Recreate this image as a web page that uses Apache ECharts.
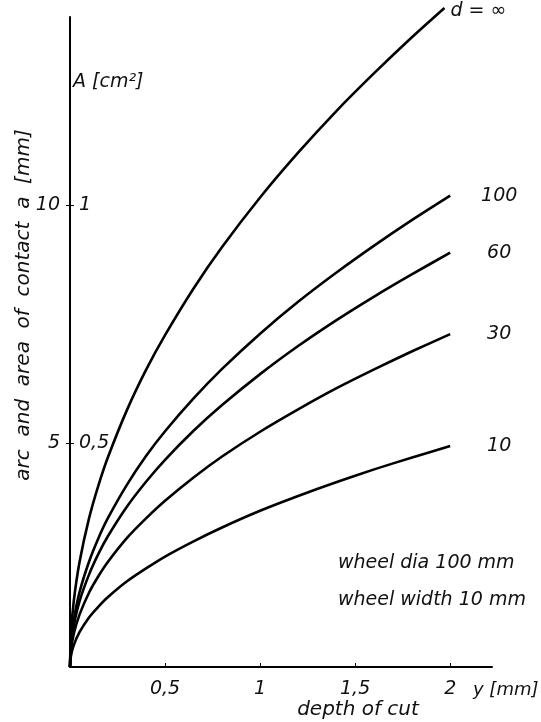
<!DOCTYPE html>
<html>
<head>
<meta charset="utf-8">
<script src="https://cdn.jsdelivr.net/npm/echarts@6/dist/echarts.min.js"></script>
<style>html,body{margin:0;padding:0;background:#fff}#c{width:541px;height:722px}</style>
</head>
<body>
<div id="c"></div>
<script>
// depth of cut y [mm]
var depth    = [0, 0.005, 0.02, 0.05, 0.1, 0.15, 0.2, 0.3, 0.4, 0.5, 0.65, 0.8, 1, 1.2, 1.4, 1.6, 1.8, 2];
var depthInf = [0, 0.005, 0.02, 0.05, 0.1, 0.15, 0.2, 0.3, 0.4, 0.5, 0.65, 0.8, 1, 1.2, 1.4, 1.6, 1.8, 1.97];
// arc of contact a [mm] per workpiece diameter d
var arcInf = [0.3, 1.00, 1.69, 2.50, 3.42, 4.12, 4.71, 5.70, 6.54, 7.27, 8.25, 9.12, 10.16, 11.10, 11.97, 12.77, 13.53, 14.14];
var arc100 = [0.3, 0.79, 1.29, 1.87, 2.51, 3.01, 3.43, 4.13, 4.73, 5.25, 5.94, 6.56, 7.30, 7.97, 8.58, 9.15, 9.69, 10.2];
var arc60  = [0.3, 0.73, 1.17, 1.68, 2.24, 2.68, 3.05, 3.67, 4.19, 4.65, 5.26, 5.80, 6.45, 7.04, 7.58, 8.08, 8.55, 9.0];
var arc30  = [0.3, 0.65, 1.00, 1.40, 1.86, 2.21, 2.51, 3.01, 3.42, 3.79, 4.28, 4.72, 5.24, 5.71, 6.15, 6.55, 6.93, 7.29];
var arc10  = [0.3, 0.53, 0.76, 1.03, 1.34, 1.57, 1.77, 2.10, 2.37, 2.62, 2.94, 3.23, 3.58, 3.89, 4.18, 4.45, 4.70, 4.94];
var curveLabels = ['d = \u221e', '100', '60', '30', '10'];
// tick values and labels
var xTicks = [0.5, 1, 1.5, 2];
var xTickLabels = ['0,5', '1', '1,5', '2'];
var yTicks = [5, 10];
var yTickLabels = ['5', '10'];
var areaTickLabels = ['0,5', '1'];

var FONT = '"DejaVu Sans", sans-serif';
function pairs(xs, ys) { return xs.map(function (x, i) { return [x, ys[i]]; }); }
function lab(vals, labels) { return function (v) { var i = vals.indexOf(v); return i >= 0 ? labels[i] : ''; }; }

var chart = echarts.init(document.getElementById('c'), null, {renderer: 'canvas'});
var seriesData = [pairs(depthInf, arcInf), pairs(depth, arc100), pairs(depth, arc60), pairs(depth, arc30), pairs(depth, arc10)];
var series = seriesData.map(function (d, k) {
  var isInf = k === 0;
  return {
    type: 'line', name: curveLabels[k], data: d, symbol: 'none', smooth: 0.25, clip: false,
    lineStyle: {color: '#000', width: 2.6}, silent: true,
    endLabel: {
      show: true, formatter: curveLabels[k], color: '#111', fontFamily: FONT, fontStyle: 'italic', fontSize: 19,
      distance: isInf ? 6 : 49, align: isInf ? 'left' : 'center', offset: isInf ? [0, 3] : [0, 0]
    }
  };
});

chart.setOption({
  animation: false,
  backgroundColor: '#fff',
  grid: {left: 70, right: 49, top: 17, bottom: 55},
  xAxis: {
    type: 'value', min: 0, max: 2.22,
    axisLine: {show: true, onZero: false, lineStyle: {color: '#000', width: 2}},
    axisTick: {show: true, inside: true, length: 4, customValues: xTicks, lineStyle: {color: '#000', width: 1}},
    axisLabel: {customValues: xTicks, formatter: lab(xTicks, xTickLabels), margin: 13, color: '#111',
      fontFamily: FONT, fontStyle: 'italic', fontSize: 19},
    splitLine: {show: false}
  },
  yAxis: [{
    type: 'value', min: 0.3, max: 13.95, position: 'left',
    axisLine: {show: true, lineStyle: {color: '#000', width: 2}},
    axisTick: {show: true, inside: false, length: 4, customValues: yTicks, lineStyle: {color: '#000', width: 1}},
    axisLabel: {customValues: yTicks, formatter: lab(yTicks, yTickLabels), margin: 10, color: '#111',
      fontFamily: FONT, fontStyle: 'italic', fontSize: 19},
    splitLine: {show: false}
  }, {
    type: 'value', min: 0.3, max: 13.95, position: 'left', offset: 0,
    axisLine: {show: false},
    axisTick: {show: true, inside: true, length: 4, customValues: yTicks, lineStyle: {color: '#000', width: 1}},
    axisLabel: {inside: true, customValues: yTicks, formatter: lab(yTicks, areaTickLabels), margin: 9, color: '#111',
      fontFamily: FONT, fontStyle: 'italic', fontSize: 19},
    splitLine: {show: false}
  }],
  series: series,
  graphic: [
    {type: 'text', x: 73, y: 82, style: {text: 'A [cm\u00b2]', fill: '#111', font: 'italic 19px ' + FONT, align: 'left', verticalAlign: 'middle'}},
    {type: 'text', x: 24, y: 305, rotation: Math.PI / 2, style: {text: 'arc  and  area  of  contact  a  [mm]', fill: '#111', font: 'italic 20px ' + FONT, align: 'center', verticalAlign: 'middle'}},
    {type: 'text', x: 358, y: 710, style: {text: 'depth of cut', fill: '#111', font: 'italic 20px ' + FONT, align: 'center', verticalAlign: 'middle'}},
    {type: 'text', x: 473, y: 690, style: {text: 'y [mm]', fill: '#111', font: 'italic 18px ' + FONT, align: 'left', verticalAlign: 'middle'}},
    {type: 'text', x: 338, y: 563, style: {text: 'wheel dia 100 mm', fill: '#111', font: 'italic 19px ' + FONT, align: 'left', verticalAlign: 'middle'}},
    {type: 'text', x: 338, y: 600, style: {text: 'wheel width 10 mm', fill: '#111', font: 'italic 19px ' + FONT, align: 'left', verticalAlign: 'middle'}}
  ]
});
</script>
</body>
</html>
